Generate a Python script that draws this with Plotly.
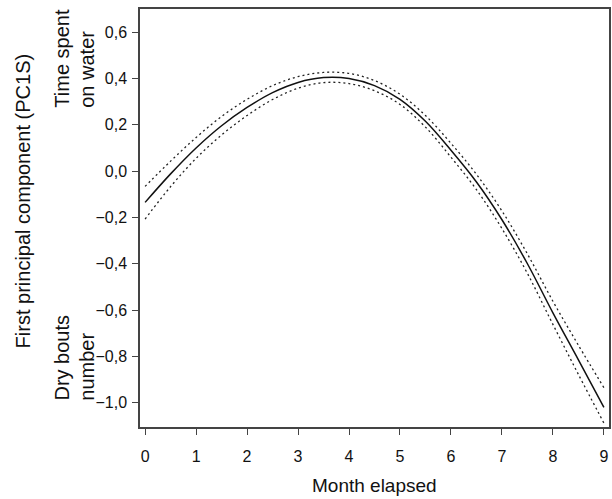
import plotly.graph_objects as go

# Data
months = [0, 0.5, 1, 1.5, 2, 2.5, 3, 3.5, 4, 4.5, 5, 5.5, 6, 6.5, 7, 7.5, 8, 8.5, 9]
fit = [-0.135, -0.012, 0.100, 0.196, 0.275, 0.339, 0.383, 0.404, 0.400, 0.369,
       0.310, 0.215, 0.090, -0.047, -0.210, -0.400, -0.612, -0.815, -1.020]
upper = [-0.066, 0.043, 0.145, 0.236, 0.310, 0.369, 0.408, 0.426, 0.422, 0.391,
         0.332, 0.240, 0.120, -0.014, -0.172, -0.358, -0.562, -0.752, -0.935]
lower = [-0.207, -0.067, 0.055, 0.156, 0.240, 0.309, 0.358, 0.382, 0.378, 0.347,
         0.288, 0.190, 0.060, -0.080, -0.248, -0.442, -0.662, -0.878, -1.088]

x_ticks = [0, 1, 2, 3, 4, 5, 6, 7, 8, 9]
y_ticks = [-1.0, -0.8, -0.6, -0.4, -0.2, 0.0, 0.2, 0.4, 0.6]

x_title = "Month elapsed"
y_title = "First principal component (PC1S)"
top_note = ["Time spent", "on water"]
bottom_note = ["Dry bouts", "number"]

FONT = "Liberation Sans, Arial, sans-serif"

fig = go.Figure()
fig.add_trace(go.Scatter(x=months, y=upper, mode="lines", line=dict(color="#222", width=1.3, dash="2px,3px", shape="spline"), showlegend=False))
fig.add_trace(go.Scatter(x=months, y=lower, mode="lines", line=dict(color="#222", width=1.3, dash="2px,3px", shape="spline"), showlegend=False))
fig.add_trace(go.Scatter(x=months, y=fit, mode="lines", line=dict(color="#111", width=1.5, shape="spline"), showlegend=False))

axis_common = dict(
    showgrid=False, zeroline=False, showline=True, linecolor="#444", linewidth=1.5,
    mirror=True, ticks="outside", ticklen=6, tickwidth=1.3, tickcolor="#444",
    tickfont=dict(family=FONT, size=16, color="#111"),
)

note_font = dict(family=FONT, size=20, color="#111")
line_x = [-0.1671, -0.1135]

annotations = [
    dict(text=x_title, xref="paper", yref="paper", x=0.5, y=-0.141, xanchor="center", yanchor="middle",
         showarrow=False, font=dict(family=FONT, size=19, color="#111")),
    dict(text=y_title, xref="paper", yref="paper", x=-0.2505, y=0.541, xanchor="center", yanchor="middle",
         textangle=-90, showarrow=False, font=dict(family=FONT, size=20, color="#111")),
]
for txt, xp in zip(top_note, line_x):
    annotations.append(dict(text=txt, xref="paper", yref="y", x=xp, y=0.266, xanchor="center", yanchor="bottom",
                            textangle=-90, showarrow=False, font=note_font))
for txt, xp in zip(bottom_note, line_x):
    annotations.append(dict(text=txt, xref="paper", yref="y", x=xp, y=-1.001, xanchor="center", yanchor="bottom",
                            textangle=-90, showarrow=False, font=note_font))

fig.update_layout(
    width=612, height=499,
    margin=dict(l=140, r=1, t=9, b=72),
    paper_bgcolor="white", plot_bgcolor="white",
    separators=",.",
    font=dict(family=FONT, color="#111"),
    xaxis=dict(range=[-0.1, 9.1], tickvals=x_ticks, ticklabelstandoff=8, **axis_common),
    yaxis=dict(range=[-1.105, 0.70], tickvals=y_ticks, tickformat=".1f", ticklabelstandoff=2, **axis_common),
    annotations=annotations,
)

fig.write_html("out.html")
